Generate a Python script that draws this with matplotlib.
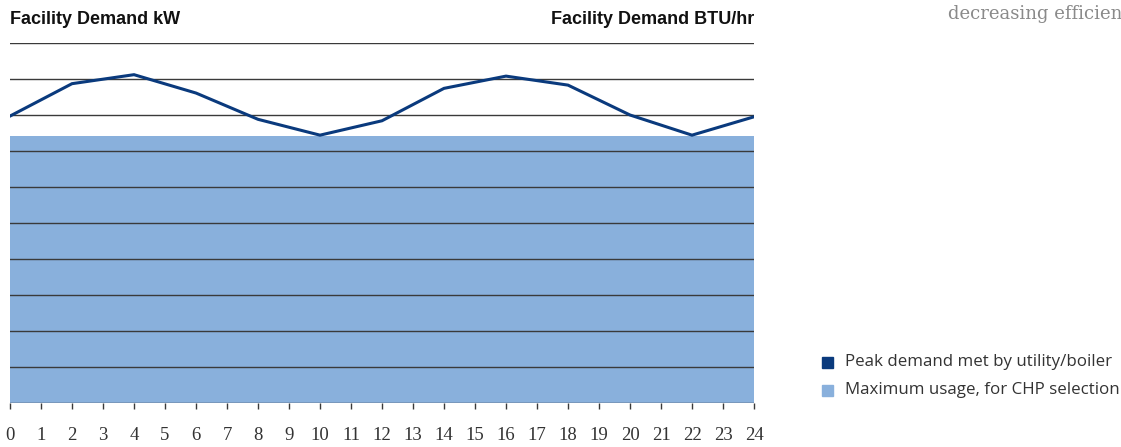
import matplotlib.pyplot as plt

# hours of the day and facility demand (grid units)
hours = list(range(0, 25, 2))
peak_demand = [7.97, 8.87, 9.12, 8.61, 7.88, 7.44, 7.84, 8.74, 9.08, 8.83, 8.0, 7.44, 7.95]
max_usage = 7.42
hour_ticks = list(range(0, 25))
grid_levels = list(range(0, 11))

dark_blue = '#0a3a7d'
light_blue = '#89b0dc'

fig = plt.figure(figsize=(11.21, 4.47), dpi=100)
ax = fig.add_axes([10 / 1121, 1 - 403 / 447, 744 / 1121, 360 / 447])

# filled area for maximum usage
ax.fill_between([0, 24], 0, max_usage, color=light_blue, lw=0, zorder=1)

# horizontal grid lines over the fill
for g in grid_levels:
    ax.axhline(g, color='#3a3a3a', lw=1.0, zorder=2)

ax.plot(hours, peak_demand, color=dark_blue, lw=2.2, zorder=3, solid_joinstyle='miter')

ax.set_xlim(0, 24)
ax.set_ylim(0, 10)
for s in ax.spines.values():
    s.set_visible(False)
ax.set_yticks([])
ax.set_xticks(hour_ticks)
ax.set_xticklabels([str(h) for h in hour_ticks], family='Liberation Serif', fontsize=13.5, color='#333333')
ax.tick_params(axis='x', direction='out', length=4, width=1, color='#3a3a3a', pad=13)

fig.text(10 / 1121, 1 - 20 / 447, 'Facility Demand kW', fontsize=13, fontweight='bold',
         family='Liberation Sans', va='center', ha='left', color='#111111')
fig.text(754 / 1121, 1 - 20 / 447, 'Facility Demand BTU/hr', fontsize=13, fontweight='bold',
         family='Liberation Sans', va='center', ha='right', color='#111111')
fig.text(948 / 1121, 1 - 14 / 447, 'decreasing efficiency', fontsize=13, family='DejaVu Serif',
         va='center', ha='left', color='#8a8a8a')

# legend
legend_items = ['Peak demand met by utility/boiler', 'Maximum usage, for CHP selection']
legend_colors = [dark_blue, light_blue]
for i, (lab, col) in enumerate(zip(legend_items, legend_colors)):
    yc = 1 - (362 + i * 28) / 447
    fig.patches.append(plt.Rectangle((822 / 1121, yc - 5.5 / 447), 11 / 1121, 11 / 447,
                                     transform=fig.transFigure, color=col, figure=fig))
    fig.text(845 / 1121, yc, lab, fontsize=12.2, family='Open Sans', va='center',
             ha='left', color='#333333')

fig.savefig('out.png', dpi=100)
